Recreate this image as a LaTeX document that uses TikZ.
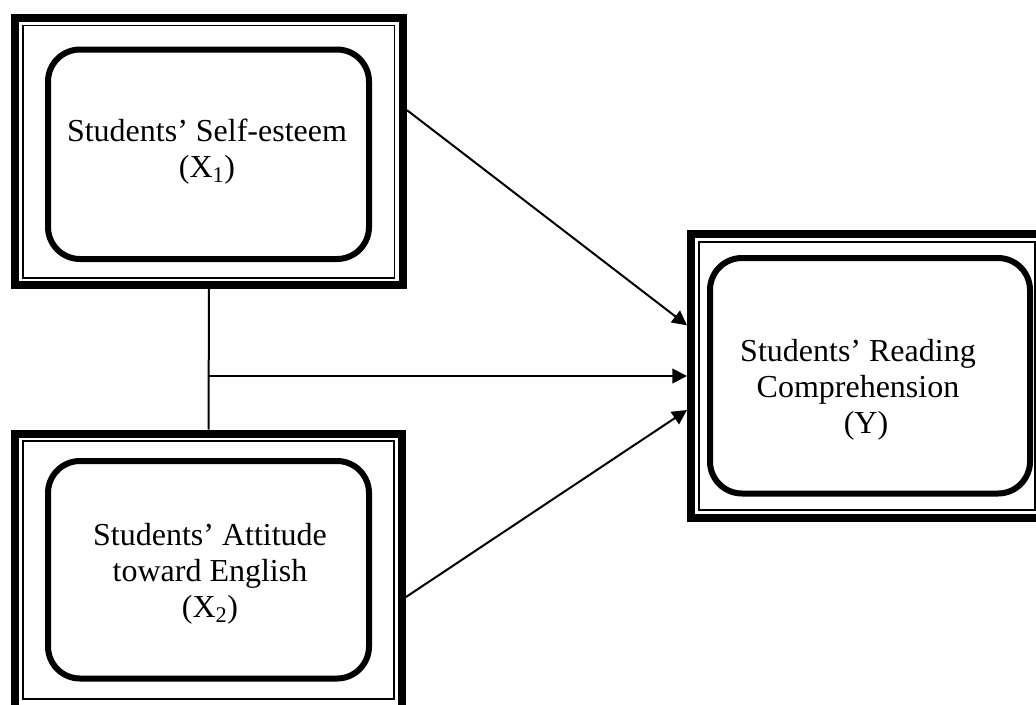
\documentclass[tikz,border=0pt]{standalone}
\usepackage{fontspec}
\setmainfont{Liberation Serif}
\usetikzlibrary{arrows.meta}
\begin{document}
\begin{tikzpicture}[x=0.75pt,y=-0.75pt,
  outerframe/.style={draw,line width=6pt,inner sep=0pt,rectangle},
  thinframe/.style={line width=1.1pt},
  roundframe/.style={line width=4.5pt,rounded corners=24pt},
  label/.style={font=\fontsize{24pt}{27pt}\selectfont,align=center,inner sep=0pt},
  conn/.style={line width=1.5pt},
  arr/.style={conn,-{Triangle[length=11pt,width=11pt]}}]
\useasboundingbox (0,0) rectangle (1036,704);
\fill[white] (0,0) rectangle (1036,704);
\clip (0,0) rectangle (1036,704);
% Box X1
\node[outerframe,minimum width=291pt,minimum height=200.25pt] (b1) at (209,151.5) {};
\draw[thinframe] (23,25.5) rectangle (394.5,278);
\draw[roundframe] (48,49.5) rectangle (369,259);
\node[label] (t1) at (207,152) {Students’ Self-esteem\\(X\textsubscript{1})};
% Box X2
\node[outerframe,minimum width=290.25pt,minimum height=207.75pt] (b2) at (208.5,572) {};
\draw[thinframe] (23,441) rectangle (394,699);
\draw[roundframe] (48,461) rectangle (369,678.5);
\node[label] (t2) at (210,574) {Students’ Attitude\\toward English\\(X\textsubscript{2})};
% Box Y
\node[outerframe,minimum width=264pt,minimum height=213pt] (y) at (867,376) {};
\draw[thinframe] (699,242) rectangle (1035,510);
\draw[roundframe] (710,258) rectangle (1030,493.5);
\node[label] (ty) at (858,390) {Students’ Reading\\Comprehension\\\hspace*{12pt}(Y)};
% connectors
\coordinate (j) at (208.5,376);
\draw[conn] (b1.south) -- (b2.north);
\draw[arr] ([yshift=31pt]b1.east) -- ([yshift=38pt]y.west);
\draw[arr] (j) -- (y.west);
\draw[arr] ([yshift=-18.75pt]b2.east) -- ([yshift=-25.5pt]y.west);
\end{tikzpicture}
\end{document}
